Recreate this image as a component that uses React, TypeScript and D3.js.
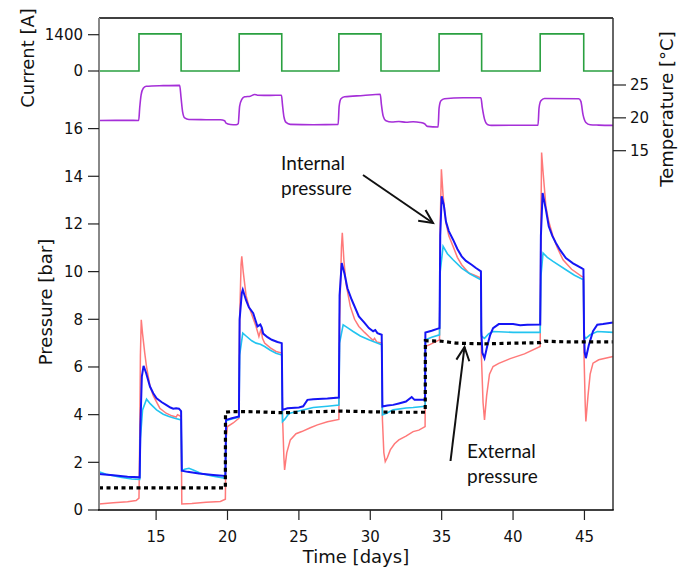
import React from "react";
import * as d3 from "d3";

type P = [number, number];

// ---- Data ----
const currentOn: number[] = [13.8, 20.82, 27.8, 34.82, 41.9];
const currentOff: number[] = [16.75, 23.8, 30.75, 37.8, 44.95];
const currentLevel = 1430;

const temperature: P[] = [
  [11, 19.6], [13.0, 19.62], [13.78, 19.6], [13.85, 21.5], [13.95, 23.5], [14.1, 24.5], [14.3, 24.8],
  [15.5, 24.9], [16.65, 24.95], [16.75, 23.0], [16.85, 21.0], [17.0, 20.0], [17.3, 19.75], [18.5, 19.72],
  [19.5, 19.7], [19.8, 19.55], [19.9, 19.2], [20.2, 19.0], [20.6, 18.95], [20.75, 19.1], [20.85, 21.8],
  [21.0, 22.8], [21.2, 23.2], [21.6, 23.3], [21.9, 23.55], [22.1, 23.45], [23.0, 23.42], [23.78, 23.45],
  [23.85, 22.0], [23.95, 20.2], [24.1, 19.3], [24.4, 19.0], [26.0, 18.96], [27.75, 19.0], [27.82, 21.8],
  [27.95, 22.9], [28.2, 23.2], [29.5, 23.4], [30.7, 23.6], [30.78, 22.0], [30.9, 20.3], [31.1, 19.55],
  [31.5, 19.36], [32.0, 19.45], [32.5, 19.33], [33.0, 19.4], [33.5, 19.3], [33.8, 19.1], [34.0, 18.7],
  [34.75, 18.6], [34.82, 21.5], [34.95, 22.6], [35.2, 22.9], [36.5, 23.05], [37.75, 23.05], [37.85, 21.5],
  [38.0, 19.8], [38.2, 19.0], [38.5, 18.86], [41.75, 18.9], [41.82, 21.5], [41.95, 22.6], [42.2, 22.95],
  [44.6, 22.9], [44.75, 22.5], [44.9, 20.5], [45.1, 19.3], [45.4, 18.95], [46.0, 18.9], [47, 18.86],
];

const pressureRed: P[] = [
  [11.0, 0.25], [12.0, 0.3], [13.0, 0.35], [13.6, 0.4], [13.8, 0.5],
  [13.85, 2.8], [13.9, 6.5], [13.96, 7.98], [14.05, 7.4], [14.2, 6.6], [14.33, 6.0], [14.57, 5.2], [14.8, 4.8],
  [15.26, 4.27], [15.7, 4.06], [16.1, 3.95], [16.4, 3.9], [16.5, 4.0], [16.75, 3.92],
  [16.8, 0.25], [17.5, 0.27], [18.5, 0.32], [19.5, 0.36], [19.85, 0.45],
  [19.9, 3.0], [20.0, 3.5], [20.4, 3.65], [20.8, 3.85],
  [20.85, 8.0], [20.95, 10.3], [21.0, 10.64], [21.1, 10.0], [21.3, 9.0], [21.5, 8.54], [22.0, 7.7], [22.2, 7.28],
  [22.35, 7.6], [22.45, 7.2], [22.6, 7.0], [23.0, 6.8], [23.4, 6.65], [23.8, 6.58],
  [23.85, 4.0], [23.95, 2.2], [24.0, 1.68], [24.15, 2.4], [24.4, 2.94], [24.8, 3.2], [25.2, 3.29], [25.8, 3.45],
  [26.3, 3.57], [27.0, 3.7], [27.8, 3.8],
  [27.85, 8.0], [27.98, 11.0], [28.04, 11.63], [28.15, 10.5], [28.3, 9.5], [28.6, 8.54], [28.9, 8.0], [29.2, 7.7],
  [29.6, 7.45], [29.9, 7.28], [30.2, 7.12], [30.3, 7.2], [30.45, 7.05], [30.8, 7.0],
  [30.85, 3.8], [30.95, 2.4], [31.05, 2.03], [31.2, 2.2], [31.4, 2.52], [31.7, 2.78], [32.0, 2.94], [32.5, 3.1],
  [33.0, 3.29], [33.4, 3.35], [33.84, 3.5],
  [33.86, 6.86], [34.2, 6.95], [34.85, 7.14],
  [34.9, 12.0], [34.98, 14.29], [35.1, 13.2], [35.3, 12.05], [35.5, 11.5], [35.8, 11.06], [36.1, 10.6], [36.4, 10.29],
  [36.9, 9.94], [37.3, 9.85], [37.75, 9.73],
  [37.78, 6.5], [37.9, 4.5], [38.0, 3.78], [38.15, 4.8], [38.35, 5.7], [38.6, 6.02], [39.0, 6.15], [39.8, 6.35],
  [40.8, 6.55], [41.9, 6.86],
  [41.95, 12.0], [42.0, 15.0], [42.1, 14.2], [42.3, 12.74], [42.5, 12.1], [42.8, 11.48], [43.1, 11.0], [43.5, 10.5],
  [44.1, 10.1], [44.8, 9.8], [44.93, 9.78],
  [44.97, 6.5], [45.05, 4.5], [45.1, 3.71], [45.25, 4.8], [45.4, 5.7], [45.6, 6.16], [46.0, 6.3], [47.0, 6.44],
];

const pressureCyan: P[] = [
  [11.0, 1.6], [11.5, 1.5], [12.5, 1.38], [13.3, 1.3], [13.85, 1.28],
  [13.9, 3.0], [14.05, 4.2], [14.33, 4.65], [14.6, 4.45], [15.03, 4.2], [15.5, 4.02], [15.9, 3.92], [16.3, 3.85],
  [16.75, 3.78],
  [16.8, 1.65], [17.0, 1.71], [17.3, 1.75], [17.6, 1.68], [18.2, 1.52], [19.0, 1.42], [19.85, 1.33],
  [19.9, 3.75], [20.3, 3.82], [20.8, 3.9],
  [20.85, 6.5], [21.07, 7.42], [21.3, 7.3], [21.7, 7.1], [22.0, 7.0], [22.3, 6.95], [22.6, 6.86], [23.0, 6.7],
  [23.4, 6.58], [23.8, 6.5],
  [23.85, 3.71], [24.0, 3.8], [24.3, 4.05], [25.0, 4.15], [26.0, 4.3], [27.0, 4.35], [27.8, 4.4],
  [27.85, 7.0], [28.1, 7.77], [28.4, 7.65], [28.8, 7.49], [29.3, 7.3], [29.9, 7.14], [30.3, 7.05], [30.8, 6.93],
  [30.85, 3.99], [31.1, 4.05], [31.6, 4.2], [32.5, 4.28], [33.0, 4.3], [33.84, 4.35],
  [33.86, 7.14], [34.3, 7.25], [34.85, 7.35],
  [34.9, 10.0], [35.1, 11.06], [35.4, 10.75], [35.8, 10.5], [36.4, 10.15], [37.0, 9.9], [37.75, 9.66],
  [37.78, 7.3], [38.0, 7.2], [38.3, 7.4], [38.6, 7.49], [40.0, 7.45], [41.9, 7.45],
  [41.95, 9.8], [42.1, 10.78], [42.4, 10.6], [42.8, 10.43], [43.7, 10.08], [44.3, 9.85], [44.93, 9.66],
  [44.97, 7.3], [45.1, 7.2], [45.4, 7.35], [45.9, 7.49], [47.0, 7.45],
];

const pressureBlue: P[] = [
  [11.0, 1.51], [12.0, 1.46], [13.0, 1.4], [13.85, 1.37],
  [13.9, 3.5], [14.0, 5.6], [14.12, 6.05], [14.3, 5.75], [14.57, 5.18], [14.8, 4.9], [15.03, 4.69], [15.4, 4.52],
  [15.7, 4.41], [16.0, 4.3], [16.2, 4.25], [16.4, 4.27], [16.6, 4.25], [16.75, 4.15],
  [16.8, 1.65], [17.2, 1.6], [18.0, 1.53], [19.0, 1.47], [19.85, 1.43],
  [19.9, 3.78], [20.3, 3.85], [20.8, 3.92],
  [20.85, 8.0], [21.0, 9.1], [21.07, 9.24], [21.3, 8.8], [21.5, 8.5], [21.8, 8.26], [22.1, 7.7], [22.3, 7.78],
  [22.4, 7.65], [22.5, 7.4], [22.8, 7.25], [23.1, 7.14], [23.5, 7.05], [23.8, 7.0],
  [23.85, 4.2], [24.2, 4.27], [25.0, 4.3], [25.3, 4.35], [25.6, 4.62], [26.0, 4.65], [27.0, 4.68], [27.8, 4.72],
  [27.85, 9.0], [28.0, 10.36], [28.2, 9.9], [28.4, 9.3], [28.7, 8.82], [29.2, 8.12], [29.6, 7.85], [29.9, 7.63],
  [30.2, 7.5], [30.35, 7.55], [30.5, 7.42], [30.8, 7.35],
  [30.85, 4.34], [31.2, 4.38], [31.6, 4.41], [32.0, 4.47], [32.5, 4.55], [32.9, 4.74], [33.1, 4.62], [33.84, 4.62],
  [33.86, 7.45], [34.3, 7.52], [34.85, 7.63],
  [34.9, 11.5], [35.0, 13.16], [35.15, 12.8], [35.3, 12.1], [35.5, 11.7], [35.8, 11.34], [36.1, 10.95],
  [36.4, 10.64], [36.7, 10.45], [37.1, 10.29], [37.4, 10.15], [37.75, 10.01],
  [37.78, 7.5], [37.85, 6.6], [38.0, 6.37], [38.2, 6.9], [38.4, 7.35], [38.6, 7.63], [39.0, 7.8], [40.0, 7.8],
  [40.5, 7.75], [41.0, 7.77], [41.9, 7.78],
  [41.95, 11.5], [42.07, 13.3], [42.3, 12.6], [42.5, 11.9], [42.75, 11.5], [43.0, 11.2], [43.3, 10.9],
  [43.7, 10.57], [44.2, 10.35], [44.8, 10.15], [44.93, 10.1],
  [44.97, 7.5], [45.02, 6.6], [45.1, 6.37], [45.3, 6.9], [45.6, 7.5], [45.9, 7.77], [46.3, 7.8], [47.0, 7.87],
];

const pressureExternal: P[] = [
  [11, 0.93], [19.85, 0.93], [19.86, 4.1], [20.3, 4.13], [22, 4.12], [24, 4.08], [26, 4.12], [28, 4.15],
  [30, 4.12], [32, 4.1], [33.85, 4.1], [33.86, 7.1], [35, 7.08], [36, 7.0], [38, 6.97], [40, 7.0],
  [41.9, 7.02], [42.2, 7.08], [44, 7.05], [47, 7.05],
];

const timeTicks: number[] = [15, 20, 25, 30, 35, 40, 45];
const pressureTicks: number[] = [0, 2, 4, 6, 8, 10, 12, 14, 16];
const currentTicks: number[] = [0, 1400];
const temperatureTicks: number[] = [15, 20, 25];

// ---- Layout ----
const W = 681;
const H = 574;
const L = 99;
const R = 613;
const T = 18;
const B = 510;

const FONT = "'DejaVu Sans', sans-serif";
const ANN_FONT = "Lato, 'Open Sans', sans-serif";

export default function App() {
  const x = d3.scaleLinear().domain([11, 47]).range([L, R]);
  const yP = d3.scaleLinear().domain([0, 16]).range([B, 128.6]);
  const yC = d3.scaleLinear().domain([0, 1400]).range([71, 34.7]);
  const yT = d3.scaleLinear().domain([15, 25]).range([150.7, 85]);

  const currentPts: P[] = [[11, 0]];
  currentOn.forEach((on, i) => {
    currentPts.push([on, 0], [on, currentLevel], [currentOff[i], currentLevel], [currentOff[i], 0]);
  });
  currentPts.push([47, 0]);

  const lineP = d3.line<P>().x((d) => x(d[0])).y((d) => yP(d[1]));
  const lineC = d3.line<P>().x((d) => x(d[0])).y((d) => yC(d[1]));
  const lineT = d3.line<P>().x((d) => x(d[0])).y((d) => yT(d[1])).curve(d3.curveMonotoneX);

  const arrowHead = (x1: number, y1: number, x2: number, y2: number) => {
    const ang = Math.atan2(y2 - y1, x2 - x1);
    const len = 15;
    const a = Math.PI / 7;
    const p1 = [x2 - len * Math.cos(ang - a), y2 - len * Math.sin(ang - a)];
    const p2 = [x2 - len * Math.cos(ang + a), y2 - len * Math.sin(ang + a)];
    return `M${p1[0]},${p1[1]}L${x2},${y2}L${p2[0]},${p2[1]}`;
  };

  return (
    <svg
      width={W}
      height={H}
      style={{ position: "absolute", left: 0, top: 0, background: "#fff" }}
    >
      <rect x={0} y={0} width={W} height={H} fill="#fff" />

      {/* data lines */}
      <path d={lineC(currentPts) || ""} fill="none" stroke="#2aa040" strokeWidth={1.6} />
      <path d={lineT(temperature) || ""} fill="none" stroke="#a52fd8" strokeWidth={1.6} />
      <path d={lineP(pressureRed) || ""} fill="none" stroke="#ff6a6a" strokeWidth={1.5} strokeOpacity={0.9} />
      <path d={lineP(pressureCyan) || ""} fill="none" stroke="#22c4f0" strokeWidth={1.6} />
      <path d={lineP(pressureBlue) || ""} fill="none" stroke="#1515f5" strokeWidth={2} />
      <path
        d={lineP(pressureExternal) || ""}
        fill="none"
        stroke="#000"
        strokeWidth={3.2}
        strokeDasharray="4 3.5"
      />

      {/* frame */}
      <line x1={L} y1={T} x2={R} y2={T} stroke="#000" strokeWidth={1.5} />
      <line x1={L} y1={T} x2={L} y2={B} stroke="#888" strokeWidth={2} />
      <line x1={R} y1={T} x2={R} y2={B} stroke="#333" strokeWidth={1.5} />
      <line x1={L - 1} y1={B} x2={R + 0.75} y2={B} stroke="#000" strokeWidth={1.5} />

      {/* left ticks: pressure */}
      {pressureTicks.map((t) => (
        <g key={"p" + t}>
          <line x1={88} x2={L} y1={yP(t)} y2={yP(t)} stroke="#222" strokeWidth={1.2} />
          <text x={83} y={yP(t)} dy="0.36em" textAnchor="end" fontFamily={FONT} fontSize={15} fill="#111">
            {t}
          </text>
        </g>
      ))}
      {/* left ticks: current */}
      {currentTicks.map((t) => (
        <g key={"c" + t}>
          <line x1={88} x2={L} y1={yC(t)} y2={yC(t)} stroke="#222" strokeWidth={1.2} />
          <text x={83} y={yC(t)} dy="0.36em" textAnchor="end" fontFamily={FONT} fontSize={15} fill="#111">
            {t}
          </text>
        </g>
      ))}
      {/* right ticks: temperature */}
      {temperatureTicks.map((t) => (
        <g key={"t" + t}>
          <line x1={R} x2={626} y1={yT(t)} y2={yT(t)} stroke="#222" strokeWidth={1.2} />
          <text x={630} y={yT(t)} dy="0.36em" textAnchor="start" fontFamily={FONT} fontSize={15} fill="#111">
            {t}
          </text>
        </g>
      ))}
      {/* bottom ticks */}
      {timeTicks.map((t) => (
        <g key={"x" + t}>
          <line x1={x(t)} x2={x(t)} y1={B} y2={520} stroke="#222" strokeWidth={1.2} />
          <text x={x(t)} y={542} textAnchor="middle" fontFamily={FONT} fontSize={15} fill="#111">
            {t}
          </text>
        </g>
      ))}

      {/* axis titles */}
      <text x={(L + R) / 2} y={563} textAnchor="middle" fontFamily={FONT} fontSize={18} fill="#111">
        Time [days]
      </text>
      <text
        transform="translate(34,58) rotate(-90)"
        textAnchor="middle"
        fontFamily={FONT}
        fontSize={18}
        fill="#111"
      >
        Current [A]
      </text>
      <text
        transform="translate(52,302) rotate(-90)"
        textAnchor="middle"
        fontFamily={FONT}
        fontSize={18}
        fill="#111"
      >
        Pressure [bar]
      </text>
      <text
        transform="translate(673,109) rotate(-90)"
        textAnchor="middle"
        fontFamily={FONT}
        fontSize={18}
        fill="#111"
      >
        Temperature [°C]
      </text>

      {/* annotations */}
      <text x={281} y={170} fontFamily={ANN_FONT} fontSize={19} fill="#111">
        Internal
      </text>
      <text x={281} y={194.5} fontFamily={ANN_FONT} fontSize={19} fill="#111">
        pressure
      </text>
      <line x1={363} y1={175} x2={433} y2={223} stroke="#111" strokeWidth={2} />
      <path d={arrowHead(363, 175, 433, 223)} fill="none" stroke="#111" strokeWidth={2} />

      <text x={467} y={458} fontFamily={ANN_FONT} fontSize={19} fill="#111">
        External
      </text>
      <text x={467} y={483} fontFamily={ANN_FONT} fontSize={19} fill="#111">
        pressure
      </text>
      <line x1={450.5} y1={461} x2={464.5} y2={347} stroke="#111" strokeWidth={2} />
      <path d={arrowHead(450.5, 461, 464.5, 347)} fill="none" stroke="#111" strokeWidth={2} />
    </svg>
  );
}
